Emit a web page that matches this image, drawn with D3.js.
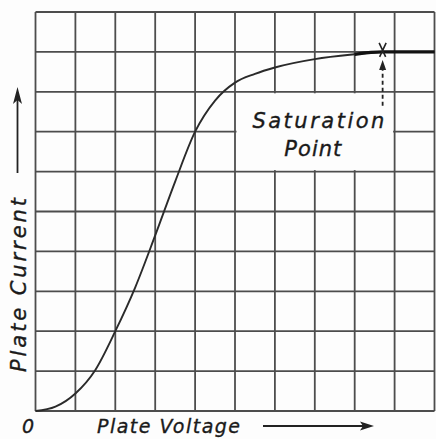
<!DOCTYPE html>
<meta charset="utf-8">
<script src="https://cdn.jsdelivr.net/npm/d3@7"></script>
<style>
  body { margin: 0; background: #fdfdfd; }
  .grid line { stroke: #4d4d4d; stroke-width: 1.8px; }
  .lbl { font-family: "DejaVu Sans", sans-serif; font-style: italic; fill: #1a1a1a; stroke: #1a1a1a; stroke-width: 0.35px; }
</style>
<body>
<script>
// plate characteristic, in grid squares (10 x 10)
var gridTicks = [0, 1, 2, 3, 4, 5, 6, 7, 8, 9, 10];
var voltage = [0, 0.5, 1.0, 1.5, 2.0, 2.5, 3.0, 3.5, 4.0, 4.5, 5.0, 5.5, 6.0, 7.0, 8.0, 8.7, 10];
var current = [0, 0.11, 0.44, 1.03, 2.0, 3.1, 4.4, 5.75, 7.0, 7.78, 8.23, 8.45, 8.61, 8.82, 8.94, 9.0, 9.0];
var saturation = [8.7, 9.0];
var labelBoxX = [5, 9];
var labelBoxY = [6, 8];
var labelLines = ["Saturation", "Point"];

var W = 436, H = 439;
var svg = d3.select("body").append("svg").attr("width", W).attr("height", H);

var x = d3.scaleLinear().domain([0, 10]).range([35.5, 434.5]);
var y = d3.scaleLinear().domain([0, 10]).range([411, 12]);

// grid
var g = svg.append("g").attr("class", "grid");
g.selectAll(".v").data(gridTicks).enter().append("line")
  .attr("x1", d => x(d)).attr("x2", d => x(d))
  .attr("y1", y(0)).attr("y2", y(10));
g.selectAll(".h").data(gridTicks).enter().append("line")
  .attr("y1", d => y(d)).attr("y2", d => y(d))
  .attr("x1", x(0)).attr("x2", x(10));

// white box for the label
svg.append("rect")
  .attr("x", x(labelBoxX[0]) + 1.5).attr("y", y(labelBoxY[1]) + 1.5)
  .attr("width", x(labelBoxX[1]) - x(labelBoxX[0]) - 3)
  .attr("height", y(labelBoxY[0]) - y(labelBoxY[1]) - 3)
  .attr("fill", "#fdfdfd");

// curve
var pts = voltage.map((v, i) => [v, current[i]]);
var line = d3.line().x(d => x(d[0])).y(d => y(d[1])).curve(d3.curveMonotoneX);
svg.append("path").datum(pts)
  .attr("d", line)
  .attr("fill", "none").attr("stroke", "#2a2a2a").attr("stroke-width", 1.9);
svg.append("path").datum(pts.filter(d => d[0] >= 8))
  .attr("d", line)
  .attr("fill", "none").attr("stroke", "#111").attr("stroke-width", 3.2);

// saturation mark
var sx = x(saturation[0]), sy = y(saturation[1]);
svg.append("path")
  .attr("d", "M" + (sx - 3.5) + "," + (sy - 9) + "L" + (sx + 3) + "," + (sy + 5) +
             "M" + (sx + 3.5) + "," + (sy - 9) + "L" + (sx - 3) + "," + (sy + 5))
  .attr("stroke", "#222").attr("stroke-width", 1.6).attr("fill", "none");
svg.append("line")
  .attr("x1", sx).attr("x2", sx).attr("y1", y(7.65)).attr("y2", sy + 16)
  .attr("stroke", "#222").attr("stroke-width", 1.8).attr("stroke-dasharray", "4,3");
svg.append("path")
  .attr("d", "M" + sx + "," + (sy + 8) + "L" + (sx - 3.5) + "," + (sy + 18) + "L" + (sx + 3.5) + "," + (sy + 18) + "Z")
  .attr("fill", "#222");

// label text
svg.append("text").attr("class", "lbl")
  .attr("x", x(7.09)).attr("y", y(7.1)).attr("text-anchor", "middle")
  .attr("font-size", 21).attr("textLength", 132).attr("lengthAdjust", "spacing")
  .text(labelLines[0]);
svg.append("text").attr("class", "lbl")
  .attr("x", x(6.95)).attr("y", y(6.4)).attr("text-anchor", "middle")
  .attr("font-size", 21).attr("textLength", 57).attr("lengthAdjust", "spacing")
  .text(labelLines[1]);

// axis labels
svg.append("text").attr("class", "lbl")
  .attr("x", 22).attr("y", 433).attr("font-size", 19).text("0");
svg.append("text").attr("class", "lbl")
  .attr("x", 97).attr("y", 433).attr("font-size", 19)
  .attr("textLength", 143).attr("lengthAdjust", "spacing")
  .text("Plate Voltage");
svg.append("text").attr("class", "lbl")
  .attr("transform", "translate(26,372) rotate(-90)")
  .attr("font-size", 21).attr("textLength", 174).attr("lengthAdjust", "spacing")
  .text("Plate Current");

// arrows
svg.append("line").attr("x1", 263).attr("x2", 368).attr("y1", 426).attr("y2", 426)
  .attr("stroke", "#222").attr("stroke-width", 1.8);
svg.append("path").attr("d", "M374,426 L360,421.5 L363,426 L360,430.5 Z").attr("fill", "#222");
svg.append("line").attr("x1", 17.5).attr("x2", 17.5).attr("y1", 173).attr("y2", 94)
  .attr("stroke", "#222").attr("stroke-width", 1.8);
svg.append("path").attr("d", "M17.5,87 L13,104 L17.5,100 L22,104 Z").attr("fill", "#222");
</script>
</body>
